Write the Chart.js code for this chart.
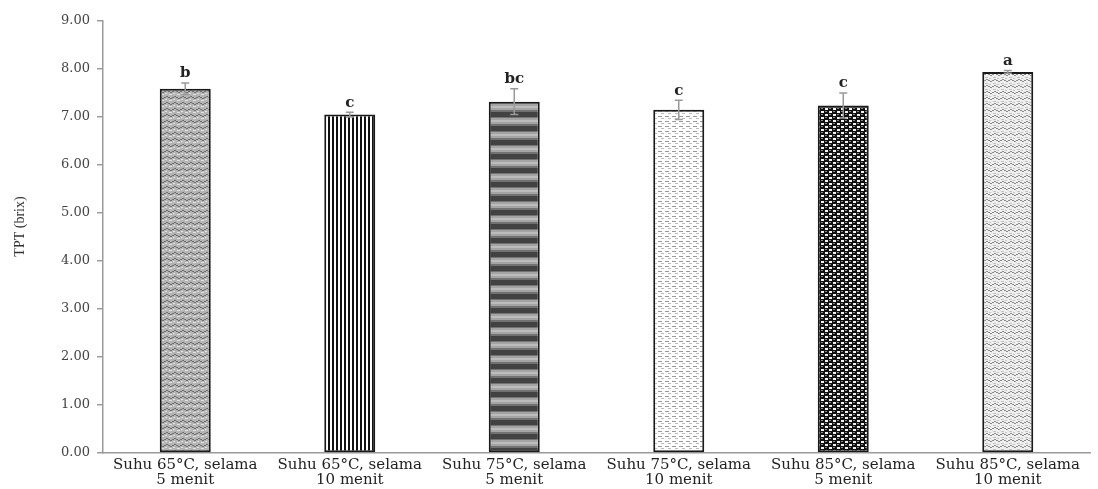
<!DOCTYPE html>
<html>
<head>
<meta charset="utf-8">
<script src="https://cdn.jsdelivr.net/npm/chart.js@4.4.1/dist/chart.umd.min.js"></script>
<style>
  body { margin: 0; background: #fff; }
  #wrap { width: 1098px; height: 489px; }
</style>
</head>
<body>
<div id="wrap"><canvas id="grafico"></canvas></div>
<script>
// data
var perlakuan = [
  ['Suhu 65°C, selama', '5 menit'],
  ['Suhu 65°C, selama', '10 menit'],
  ['Suhu 75°C, selama', '5 menit'],
  ['Suhu 75°C, selama', '10 menit'],
  ['Suhu 85°C, selama', '5 menit'],
  ['Suhu 85°C, selama', '10 menit']
];
var tpt = [7.59, 7.05, 7.32, 7.15, 7.24, 7.94];
var sd = [0.12, 0.05, 0.27, 0.20, 0.26, 0.03];
var notasi = ['b', 'c', 'bc', 'c', 'c', 'a'];
var yTicks = [0, 1, 2, 3, 4, 5, 6, 7, 8, 9];

var serif = '"DejaVu Serif", "Times New Roman", serif';
var serif2 = '"Liberation Serif", "Times New Roman", serif';

// fill patterns, rough copies of the excel ones
function pola(w, h, gambar) {
  var c = document.createElement('canvas');
  c.width = w; c.height = h;
  var g = c.getContext('2d');
  gambar(g);
  return g.createPattern(c, 'repeat');
}
var ctx = document.getElementById('grafico').getContext('2d');

var pola1 = pola(8, 6, function (g) {
  g.fillStyle = '#b4b4b4'; g.fillRect(0, 0, 8, 6);
  g.fillStyle = '#707070';
  g.fillRect(0, 1, 2, 1); g.fillRect(2, 2, 2, 1); g.fillRect(4, 1, 2, 1); g.fillRect(6, 0, 2, 1);
  g.fillStyle = '#e0e0e0';
  g.fillRect(1, 4, 3, 1); g.fillRect(5, 3, 2, 1);
});
var pola2 = pola(4, 4, function (g) {
  g.fillStyle = '#fff'; g.fillRect(0, 0, 4, 4);
  g.fillStyle = '#111'; g.fillRect(0, 0, 2, 4);
});
var pola3 = pola(4, 14, function (g) {
  g.fillStyle = '#424242'; g.fillRect(0, 0, 4, 14);
  g.fillStyle = '#727272'; g.fillRect(0, 5, 4, 9);
  g.fillStyle = '#a4a4a4'; g.fillRect(0, 6, 4, 6);
  g.fillStyle = '#bcbcbc'; g.fillRect(0, 8, 4, 2);
});
var pola4 = pola(7, 5, function (g) {
  g.fillStyle = '#fff'; g.fillRect(0, 0, 7, 5);
  g.fillStyle = '#999';
  g.fillRect(0, 1, 4, 1);
  g.fillStyle = '#bbb';
  g.fillRect(3, 3, 3, 1);
});
var pola5 = pola(8, 6, function (g) {
  g.fillStyle = '#111'; g.fillRect(0, 0, 8, 6);
  g.fillStyle = '#f2f2f2';
  g.fillRect(1, 0, 3, 2); g.fillRect(5, 3, 3, 2);
  g.fillStyle = '#888';
  g.fillRect(5, 0, 2, 1); g.fillRect(1, 3, 2, 1);
});
var pola6 = pola(8, 6, function (g) {
  g.fillStyle = '#eeeeee'; g.fillRect(0, 0, 8, 6);
  g.fillStyle = '#8c8c8c';
  g.fillRect(0, 2, 2, 1); g.fillRect(2, 1, 2, 1); g.fillRect(4, 2, 2, 1); g.fillRect(6, 3, 2, 1);
  g.fillStyle = '#c4c4c4';
  g.fillRect(1, 5, 3, 1); g.fillRect(5, 0, 2, 1);
});

// error bars and letters on top of the bars
var errorBar = {
  id: 'errorBar',
  afterDatasetsDraw: function (chart) {
    var c = chart.ctx;
    var y = chart.scales.y;
    var meta = chart.getDatasetMeta(0);
    c.save();
    meta.data.forEach(function (bar, i) {
      var x = bar.x;
      var atas = y.getPixelForValue(tpt[i] + sd[i]);
      var bawah = y.getPixelForValue(tpt[i] - sd[i]);
      c.strokeStyle = '#9a9a9a';
      c.lineWidth = 1.5;
      c.beginPath();
      c.moveTo(x, atas); c.lineTo(x, bawah);
      c.moveTo(x - 4, atas); c.lineTo(x + 4, atas);
      c.moveTo(x - 4, bawah); c.lineTo(x + 4, bawah);
      c.stroke();
      c.fillStyle = '#222';
      c.font = 'bold 15px ' + serif;
      c.textAlign = 'center';
      c.textBaseline = 'bottom';
      c.fillText(notasi[i], x, atas - 2);
    });
    c.restore();
  }
};

new Chart(ctx, {
  type: 'bar',
  data: {
    labels: perlakuan,
    datasets: [{
      label: 'TPT',
      data: tpt,
      backgroundColor: [pola1, pola2, pola3, pola4, pola5, pola6],
      borderColor: '#1a1a1a',
      borderWidth: 2,
      borderSkipped: false,
      barPercentage: 0.31,
      categoryPercentage: 1
    }]
  },
  options: {
    responsive: true,
    maintainAspectRatio: false,
    animation: false,
    layout: { padding: { left: 8, right: 8, top: 21, bottom: 0 } },
    plugins: { legend: { display: false }, tooltip: { enabled: false } },
    scales: {
      x: {
        grid: { display: false, drawTicks: false },
        border: { color: '#9a9a9a', width: 1.5 },
        ticks: {
          color: '#222',
          font: { family: serif, size: 15, lineHeight: 1.0 },
          maxRotation: 0,
          autoSkip: false,
          padding: 5
        },
        afterFit: function (s) { s.height = 36; }
      },
      y: {
        min: 0,
        max: 9,
        afterBuildTicks: function (s) { s.ticks = yTicks.map(function (v) { return { value: v }; }); },
        grid: { drawOnChartArea: false, color: '#9a9a9a', tickLength: 6, lineWidth: 1.5 },
        border: { color: '#9a9a9a', width: 1.5 },
        ticks: {
          color: '#444',
          font: { family: serif, size: 13 },
          padding: 7,
          callback: function (v) { return v.toFixed(2); }
        },
        title: {
          display: true,
          text: '      TPT (brix)',
          color: '#333',
          font: { family: serif2, size: 14 },
          padding: { top: 4, bottom: 6 }
        },
        afterFit: function (s) { s.width = 95; }
      }
    }
  },
  plugins: [errorBar]
});
</script>
</body>
</html>
